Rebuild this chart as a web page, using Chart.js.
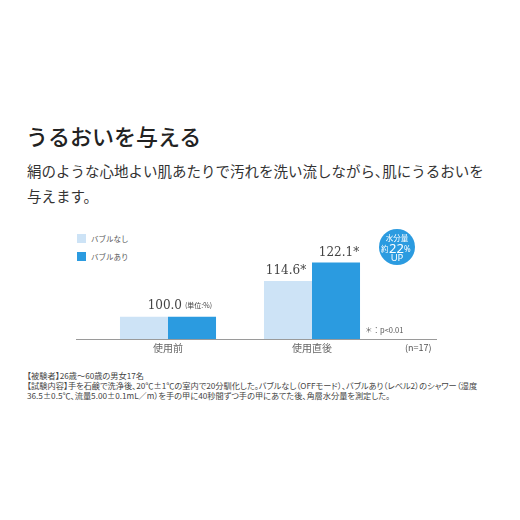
<!DOCTYPE html>
<html>
<head>
<meta charset="utf-8">
<script src="https://cdn.jsdelivr.net/npm/chart.js@4.4.1/dist/chart.umd.min.js"></script>
<style>
body{margin:0;width:520px;height:520px;background:#fff;position:relative;overflow:hidden;font-family:"Noto Sans CJK JP",sans-serif;color:#222}
.title{position:absolute;left:26px;top:124px;font-size:22px;line-height:22px;font-weight:500;white-space:nowrap}
.sub{position:absolute;left:27px;top:158px;font-size:14.5px;line-height:25px;color:#333;white-space:nowrap}
.sub span{font-feature-settings:"palt"}
.note{position:absolute;left:27px;top:370px;font-size:8.2px;line-height:10px;color:#444;white-space:nowrap;font-feature-settings:"palt"}
.lg{position:absolute;left:77px;font-size:7.5px;line-height:9px;color:#555;white-space:nowrap}
.lg i{display:inline-block;width:9px;height:9px;vertical-align:top;margin-right:5px}
canvas{position:absolute;left:0;top:220px}
</style>
</head>
<body>
<div class="title">うるおいを与える</div>
<div class="sub">絹のような心地よい肌あたりで汚れを洗い流しながら<span>、</span>肌にうるおいを<br>与えます。</div>
<div class="lg" style="top:234px"><i style="background:#cde3f6"></i>バブルなし</div>
<div class="lg" style="top:252px"><i style="background:#2b9be0"></i>バブルあり</div>
<div class="note">【被験者】26歳～60歳の男女17名<br>【試験内容】手を石鹸で洗浄後、20℃±1℃の室内で20分馴化した。バブルなし（OFFモード）、バブルあり（レベル2）のシャワー（湿度<br>36.5±0.5℃、流量5.00±0.1mL／m）を手の甲に40秒間ずつ手の甲にあてた後、角層水分量を測定した。</div>
<canvas id="chart" width="520" height="150"></canvas>
<script>
var categories = ['使用前', '使用直後'];
var seriesNames = ['バブルなし', 'バブルあり'];
var noBubble = [100.0, 114.6];
var withBubble = [100.0, 122.1];
var significant = [false, true];
var colors = ['#cde3f6', '#2b9be0'];

var labelPlugin = {
    id: 'labels',
    afterDatasetsDraw: function(chart) {
        var ctx = chart.ctx;
        var area = chart.chartArea;
        var xs = chart.scales.x;
        ctx.save();
        // baseline
        ctx.strokeStyle = '#9a9a9a';
        ctx.lineWidth = 1;
        ctx.beginPath();
        ctx.moveTo(76, area.bottom + 0.5);
        ctx.lineTo(437, area.bottom + 0.5);
        ctx.stroke();

        ctx.fillStyle = '#444';
        ctx.textBaseline = 'middle';
        ctx.font = '12px "DejaVu Serif"';
        // first group: same value, one label
        var m0 = chart.getDatasetMeta(0), m1 = chart.getDatasetMeta(1);
        var c0 = xs.getPixelForValue(0);
        ctx.textAlign = 'right';
        ctx.fillText(noBubble[0].toFixed(1), c0 + 14, m0.data[0].y - 11);
        ctx.textAlign = 'left';
        ctx.font = '7px "Noto Sans CJK JP"';
        ctx.fillText('(単位:%)', c0 + 17, m0.data[0].y - 11);
        // second group
        ctx.font = '12px "DejaVu Serif"';
        ctx.textAlign = 'center';
        for (var i = 1; i < categories.length; i++) {
            var s = significant[i] ? '*' : '';
            ctx.fillText(noBubble[i].toFixed(1) + s, m0.data[i].x - 2, m0.data[i].y - 10);
            ctx.fillText(withBubble[i].toFixed(1) + s, m1.data[i].x + 3, m1.data[i].y - 10);
        }
        // p note and n
        ctx.font = '7.5px "Noto Sans CJK JP"';
        ctx.fillStyle = '#555';
        ctx.textAlign = 'left';
        ctx.fillText('＊：p<0.01', 365, area.bottom - 9);
        ctx.font = '9px "Noto Sans CJK JP"';
        ctx.fillText('(n=17)', 405, area.bottom + 9);

        // bubble
        var bx = 397, by = 27;
        ctx.fillStyle = '#2b9be0';
        ctx.beginPath();
        ctx.arc(bx, by, 18, 0, Math.PI * 2);
        ctx.fill();
        ctx.fillStyle = '#fff';
        ctx.textAlign = 'center';
        ctx.font = '7.5px "Noto Sans CJK JP"';
        ctx.fillText('水分量', bx, by - 9);
        ctx.textAlign = 'left';
        ctx.fillText('約', bx - 16, by + 2);
        ctx.font = '13px "Noto Sans"';
        ctx.fillText('22', bx - 8, by + 2);
        ctx.font = '8px "Noto Sans"';
        ctx.fillText('%', bx + 7, by + 3);
        ctx.textAlign = 'center';
        ctx.font = '9.5px "Noto Sans"';
        ctx.fillText('UP', bx, by + 11);
        ctx.restore();
    }
};

new Chart(document.getElementById('chart'), {
    type: 'bar',
    data: {
        labels: categories,
        datasets: [
            { label: seriesNames[0], data: noBubble, backgroundColor: colors[0], borderWidth: 0 },
            { label: seriesNames[1], data: withBubble, backgroundColor: colors[1], borderWidth: 0 }
        ]
    },
    options: {
        responsive: false,
        animation: false,
        layout: { padding: { left: 96, right: 136, top: 20, bottom: 13 } },
        plugins: { legend: { display: false }, tooltip: { enabled: false } },
        datasets: { bar: { categoryPercentage: 0.667, barPercentage: 1 } },
        scales: {
            x: {
                grid: { display: false, drawTicks: false },
                border: { display: false },
                ticks: { color: '#666', padding: 3, font: { family: '"Noto Sans CJK JP"', size: 10 } }
            },
            y: { display: false, min: 91, max: 131.2 }
        }
    },
    plugins: [labelPlugin]
});
</script>
</body>
</html>
